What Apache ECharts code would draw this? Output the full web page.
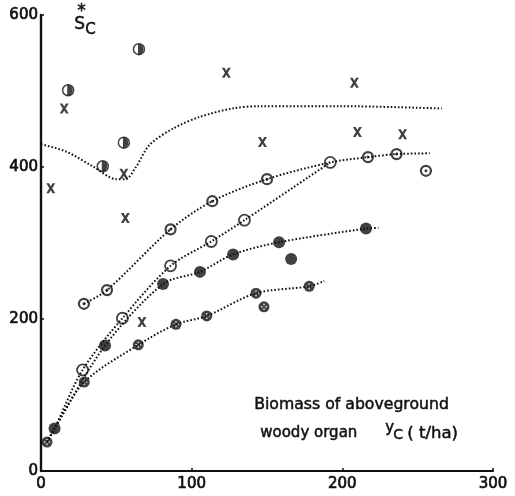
<!DOCTYPE html>
<html>
<head>
<meta charset="utf-8">
<script src="https://cdn.jsdelivr.net/npm/echarts@6/dist/echarts.min.js"></script>
<style>
  html, body { margin: 0; padding: 0; background: #fff; }
  #main { width: 515px; height: 496px; }
</style>
</head>
<body>
<div id="main"></div>
<script>
// axis ticks
var xTicks = [0, 100, 200, 300];
var yTicks = [0, 200, 400, 600];

// point groups (y_C, S_C*)
var halfPts = [[18, 501], [41, 401], [55, 432], [65, 555]];
var xMarkPts = [[6.5, 372], [15.4, 477], [55, 391], [56, 333], [67, 196], [123, 524], [147, 433], [208, 511], [210, 446], [240, 443]];
var dotCirclePts = [[28.5, 220], [43.8, 238], [86, 318], [113.7, 355], [150, 384], [217, 413], [236, 417], [255.5, 395]];
var openCirclePts = [[27.6, 133], [54, 201], [86, 270], [113, 302], [135, 330], [192, 406]];
var filledPts = [[9, 56], [42.5, 165], [81, 246], [105.5, 262], [127.5, 285], [158, 301], [166, 279], [215.7, 319]];
var crossCirclePts = [[4, 38], [28.7, 117], [64.6, 166], [89.6, 193], [110, 204], [142.7, 234], [148, 216], [178, 243]];

// fitted curves
var curveSc = [[0, 430], [17, 420], [35, 400], [50, 384], [56, 384], [63, 400], [72, 429], [88, 451], [105.5, 466], [127, 477], [145, 480], [200, 480], [266, 477]];
var curveUpper = [[28.5, 220], [43.8, 238], [86, 318], [113.7, 355], [150, 384], [192, 406], [217, 413], [236, 417], [258, 418]];
var curveOpen = [[4, 38], [9, 56], [27.6, 133], [54, 201], [86, 270], [113, 302], [135, 330], [192, 406]];
var curveFilled = [[4, 38], [9, 56], [42.5, 165], [81, 246], [105.5, 262], [127.5, 285], [158, 301], [215.7, 319], [224, 320]];
var curveCross = [[4, 38], [9, 56], [28.7, 117], [64.6, 166], [89.6, 193], [110, 204], [142.7, 234], [178, 243], [188, 250]];

var font = "DejaVu Sans";
var ink = "#111";

var chart = echarts.init(document.getElementById("main"));

function curve(data) {
  return {
    type: "line",
    data: data,
    smooth: 0.3,
    symbol: "none",
    silent: true,
    lineStyle: { color: ink, width: 2, type: [1.6, 2] }
  };
}

function marks(data, extra) {
  var s = { type: "scatter", data: data, silent: true };
  for (var k in extra) s[k] = extra[k];
  return s;
}

// text drawn a bit heavier than regular, like the print
function label(x, y, str, size) {
  return {
    type: "text", left: x, top: y,
    style: { text: str, font: size + "px " + font, fill: ink, stroke: ink, lineWidth: 0.5 }
  };
}

var xPath = "path://M0,0 L3,0 L5,3 L7,0 L10,0 L6.6,5 L10,10 L7,10 L5,7 L3,10 L0,10 L3.4,5 Z";
var dotsPath = "path://M3,0h2v2h-2z M0,3h2v2h-2z M6,3h2v2h-2z M3,6h2v2h-2z";
var halfPath = "path://M0,0 A5,5 0 0 1 0,10 Z";

var axisText = { color: ink, fontFamily: font, fontSize: 15, textBorderColor: ink, textBorderWidth: 0.7 };

var option = {
  animation: false,
  grid: { left: 41, right: 22, top: 15, bottom: 25 },
  xAxis: {
    type: "value",
    min: 0,
    max: 300,
    interval: 100,
    axisLine: { show: true, lineStyle: { color: ink, width: 2 } },
    axisTick: { show: true, inside: true, length: 3, lineStyle: { color: ink, width: 1.5 } },
    splitLine: { show: false },
    axisLabel: Object.assign({}, axisText, {
      margin: 6,
      formatter: function (v) { return xTicks.indexOf(v) >= 0 ? String(v) : ""; }
    })
  },
  yAxis: {
    type: "value",
    min: 0,
    max: 600,
    interval: 200,
    axisLine: { show: true, lineStyle: { color: ink, width: 2.4 } },
    axisTick: { show: true, inside: true, length: 3, lineStyle: { color: ink, width: 1.5 } },
    splitLine: { show: false },
    axisLabel: Object.assign({}, axisText, {
      margin: 3,
      formatter: function (v) { return yTicks.indexOf(v) >= 0 ? String(v) : ""; }
    })
  },
  series: [
    curve(curveSc),
    curve(curveUpper),
    curve(curveOpen),
    curve(curveFilled),
    curve(curveCross),
    // half-filled circles
    marks(halfPts, { symbol: "circle", symbolSize: 11, itemStyle: { color: "#fff", borderColor: ink, borderWidth: 1.5 } }),
    marks(halfPts, { symbol: halfPath, symbolSize: [5.5, 11], symbolOffset: [1.8, 0], itemStyle: { color: ink } }),
    // x marks
    marks(xMarkPts, { symbol: xPath, symbolSize: [9, 10], itemStyle: { color: ink } }),
    // dotted circles
    marks(dotCirclePts, { symbol: "circle", symbolSize: 10, itemStyle: { color: "#fff", borderColor: ink, borderWidth: 2.2 } }),
    marks(dotCirclePts, { symbol: "circle", symbolSize: 3, itemStyle: { color: ink } }),
    // open circles
    marks(openCirclePts, { symbol: "circle", symbolSize: 11, itemStyle: { color: "#fff", borderColor: ink, borderWidth: 1.8 } }),
    // filled circles
    marks(filledPts, { symbol: "circle", symbolSize: 12, itemStyle: { color: ink } }),
    // crossed circles
    marks(crossCirclePts, { symbol: "circle", symbolSize: 11, itemStyle: { color: ink } }),
    marks(crossCirclePts, { symbol: dotsPath, symbolSize: 6, itemStyle: { color: "#fff" } })
  ],
  graphic: [
    label(77, 3, "*", 17),
    label(74, 16, "S", 17),
    label(85, 22, "C", 15),
    label(254, 397, "Biomass of aboveground", 15.7),
    label(260, 425, "woody organ", 15),
    label(385, 420, "y", 15),
    label(393, 428, "C", 14),
    label(407, 425, "( t/ha)", 16.5)
  ]
};

chart.setOption(option);
</script>
</body>
</html>
